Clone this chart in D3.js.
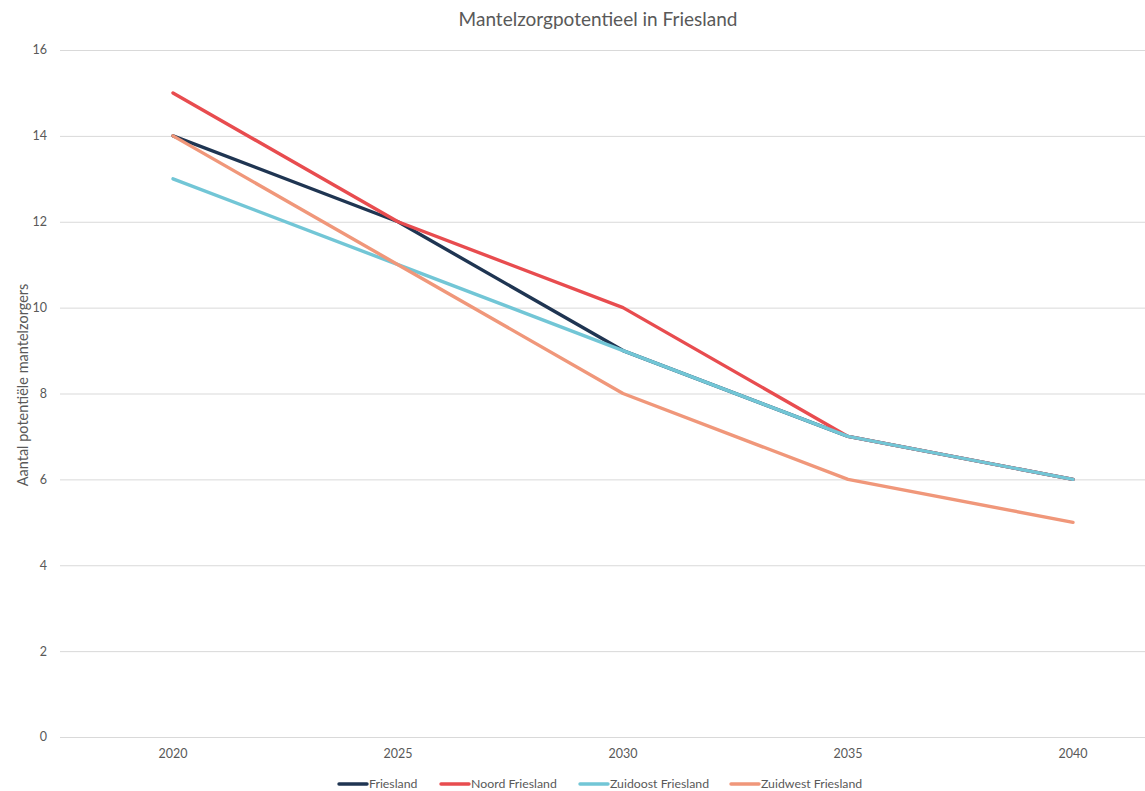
<!DOCTYPE html>
<html>
<head>
<meta charset="utf-8">
<script src="https://cdn.jsdelivr.net/npm/d3@7"></script>
<style>
  body { margin: 0; background: #fff; }
  text { font-family: Lato, "Open Sans", sans-serif; fill: #595959; }
</style>
</head>
<body>
<script>
var years = ["2020", "2025", "2030", "2035", "2040"];
var yTicks = [0, 2, 4, 6, 8, 10, 12, 14, 16];
var seriesNames = ["Friesland", "Noord Friesland", "Zuidoost Friesland", "Zuidwest Friesland"];
var friesland = [14, 12, 9, 7, 6];
var noordFriesland = [15, 12, 10, 7, 6];
var zuidoostFriesland = [13, 11, 9, 7, 6];
var zuidwestFriesland = [14, 11, 8, 6, 5];
var colors = ["#1f3552", "#e84c4f", "#72c6d6", "#f0977a"];

var series = [friesland, noordFriesland, zuidoostFriesland, zuidwestFriesland];

var W = 1145, H = 791;
var svg = d3.select("body").append("svg").attr("width", W).attr("height", H);

var x = d3.scalePoint().domain(years).range([173, 1073]);
var y = d3.scaleLinear().domain([0, 16]).range([737, 50]);

// gridlines
svg.append("g").selectAll("line")
  .data(yTicks)
  .enter().append("line")
    .attr("x1", 60).attr("x2", W)
    .attr("y1", function(d) { return y(d) + 0.5; })
    .attr("y2", function(d) { return y(d) + 0.5; })
    .attr("stroke", "#d9d9d9")
    .attr("stroke-width", 1);

// y tick labels
svg.append("g").selectAll("text")
  .data(yTicks)
  .enter().append("text")
    .attr("x", 47)
    .attr("y", function(d) { return y(d); })
    .attr("dy", "0.35em")
    .attr("text-anchor", "end")
    .style("font-size", "12.5px")
    .text(function(d) { return d; });

// x tick labels
svg.append("g").selectAll("text")
  .data(years)
  .enter().append("text")
    .attr("x", function(d) { return x(d); })
    .attr("y", 758)
    .attr("text-anchor", "middle")
    .style("font-size", "12.5px")
    .text(function(d) { return d; });

// lines
var line = d3.line()
  .x(function(d, i) { return x(years[i]); })
  .y(function(d) { return y(d); });

svg.append("g").selectAll("path")
  .data(series)
  .enter().append("path")
    .attr("d", line)
    .attr("fill", "none")
    .attr("stroke", function(d, i) { return colors[i]; })
    .attr("stroke-width", 3.4)
    .attr("stroke-linecap", "round")
    .attr("stroke-linejoin", "round");

// title
svg.append("text")
  .attr("x", 598).attr("y", 26)
  .attr("text-anchor", "middle")
  .style("font-size", "19px")
  .text("Mantelzorgpotentieel in Friesland");

// y axis title
svg.append("text")
  .attr("transform", "translate(28,385) rotate(-90)")
  .attr("text-anchor", "middle")
  .style("font-size", "14.5px")
  .text("Aantal potentiële mantelzorgers");

// legend
var legendX = [339, 441, 580, 731];
var lg = svg.append("g").selectAll("g")
  .data(seriesNames)
  .enter().append("g")
    .attr("transform", function(d, i) { return "translate(" + legendX[i] + ",784)"; });
lg.append("line")
  .attr("x1", 0).attr("x2", 28)
  .attr("stroke", function(d, i) { return colors[i]; })
  .attr("stroke-width", 3.4)
  .attr("stroke-linecap", "round");
lg.append("text")
  .attr("x", 30)
  .attr("dy", "0.35em")
  .style("font-size", "12.3px")
  .text(function(d) { return d; });
</script>
</body>
</html>
